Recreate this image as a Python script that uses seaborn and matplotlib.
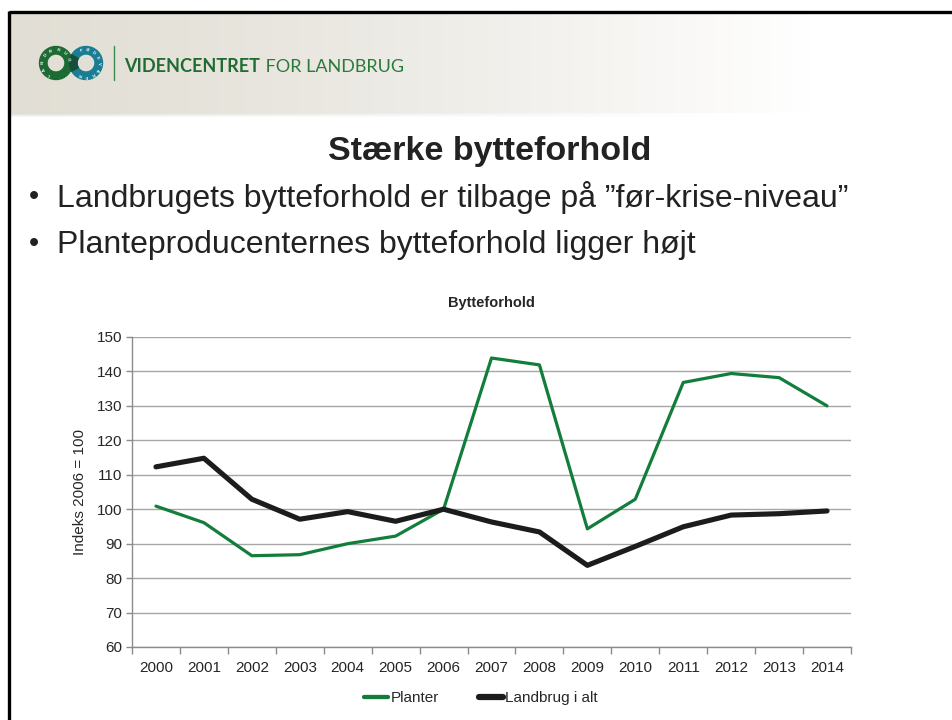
import numpy as np
import pandas as pd
import matplotlib
matplotlib.use("Agg")
import matplotlib.pyplot as plt
from matplotlib.patches import Wedge
from matplotlib.lines import Line2D
import seaborn as sns

# ---------------- data ----------------
years = ['2000', '2001', '2002', '2003', '2004', '2005', '2006', '2007',
         '2008', '2009', '2010', '2011', '2012', '2013', '2014']
planter = [100.9, 96.1, 86.5, 86.8, 90.0, 92.2, 100.0, 143.9,
           141.9, 94.3, 102.9, 136.8, 139.4, 138.2, 130.0]
landbrug = [112.3, 114.8, 102.9, 97.1, 99.3, 96.5, 100.0, 96.3,
            93.4, 83.7, 89.2, 94.9, 98.3, 98.7, 99.5]
series_names = ['Planter', 'Landbrug i alt']
yticks = [60, 70, 80, 90, 100, 110, 120, 130, 140, 150]

slide_title = 'Stærke bytteforhold'
bullets = ['Landbrugets bytteforhold er tilbage på ”før-krise-niveau”',
           'Planteproducenternes bytteforhold ligger højt']
chart_title = 'Bytteforhold'
ylabel = 'Indeks 2006 = 100'

df = pd.DataFrame({
    'year': years * 2,
    'value': planter + landbrug,
    'series': [series_names[0]] * len(years) + [series_names[1]] * len(years),
})

sns.set_theme(style='white')
plt.rcParams['font.family'] = ['Liberation Sans', 'DejaVu Sans']

W, H = 952, 720
fig = plt.figure(figsize=(W / 100, H / 100), dpi=100)
fig.patch.set_facecolor('white')

def fx(x):
    return x / W

def fy(y):
    return 1 - y / H

# ---------------- header band ----------------
hdr = fig.add_axes([fx(10), fy(113), fx(942), (113 - 13) / H])
hdr.set_axis_off()
grad = np.linspace(0, 1, 400)
c0 = np.array([0.885, 0.872, 0.835])
c1 = np.array([1.0, 1.0, 1.0])
t = np.clip(grad / 0.85, 0, 1) ** 1.3
img = (c0[None, :] * (1 - t[:, None]) + c1[None, :] * t[:, None])[None, :, :]
hdr.imshow(img, aspect='auto', extent=[0, 1, 0, 1])
hdr.set_xlim(0, 1)
hdr.set_ylim(0, 1)

# header bottom shadow
sh = fig.add_axes([fx(10), fy(118), fx(942), 5 / H])
sh.set_axis_off()
sgrad = np.linspace(0, 1, 400)
st = np.clip(sgrad / 0.75, 0, 1)
shade = np.array([0.86, 0.86, 0.86])
simg = shade[None, :] * (1 - st[:, None]) + np.ones(3)[None, :] * st[:, None]
vert = np.linspace(0, 1, 5)[:, None, None]
simg2 = simg[None, :, :] * (1 - vert) + np.ones(3)[None, None, :] * vert
sh.imshow(simg2, aspect='auto', extent=[0, 1, 0, 1])

# logo
lg = fig.add_axes([0, 0, 1, 1])
lg.set_axis_off()
lg.set_xlim(0, W)
lg.set_ylim(H, 0)
lg.patch.set_alpha(0)
green_dark = '#1d6b34'
teal = '#1a7d94'
lg.add_patch(Wedge((86, 63), 16.5, 0, 360, width=7.5, color=teal))
lg.add_patch(Wedge((56, 63), 16.5, -60, 300, width=7.5, color=green_dark))
lg.add_patch(Wedge((86, 63), 16.5, 150, 210, width=7.5, color='#17503a'))
for i, ch in enumerate('LANDBRUG'):
    ang = np.deg2rad(240 - i * 32)
    lg.text(56 + 12.7 * np.cos(ang), 63 - 12.7 * np.sin(ang), ch,
            fontsize=3.0, color='white', ha='center', va='center',
            rotation=np.rad2deg(ang) - 90, fontweight='bold')
for i, ch in enumerate('FØDEVARER'):
    ang = np.deg2rad(110 - i * 28)
    lg.text(86 + 12.7 * np.cos(ang), 63 - 12.7 * np.sin(ang), ch,
            fontsize=3.0, color='white', ha='center', va='center',
            rotation=np.rad2deg(ang) - 90, fontweight='bold')
lg.plot([114, 114], [46, 80], color='#3d8a4a', lw=1.0)
t1 = lg.text(124, 72, 'VIDENCENTRET', fontsize=13, fontweight='bold',
             color='#1f6b32', family=['Lato', 'DejaVu Sans'], va='baseline')
fig.canvas.draw()
bb = t1.get_window_extent()
lg.text(bb.x1 + 1, H - 72, ' FOR LANDBRUG', fontsize=13, color='#2b7a3a',
        family=['Lato', 'DejaVu Sans'], va='baseline', transform=None)

# border (top and left)
lg.plot([9, W], [12, 12], color='black', lw=2.4, solid_capstyle='butt')
lg.plot([9, 9], [11, H], color='black', lw=2.4, solid_capstyle='butt')

# ---------------- slide texts ----------------
fig.text(fx(490), fy(160), slide_title, ha='center', va='baseline',
         fontsize=24.5, fontweight='bold', color='#222222')
for k, b in enumerate(bullets):
    yb = 207 + k * 46.5
    fig.text(fx(34), fy(yb - 10), '•', ha='center', va='center',
             fontsize=21, color='#222222')
    fig.text(fx(57), fy(yb), b, ha='left', va='baseline',
             fontsize=23, color='#222222')

# ---------------- chart ----------------
ax = fig.add_axes([fx(132), fy(647), fx(851 - 132), (647 - 337) / H])
ax.set_facecolor('none')
colors = {series_names[0]: '#137d3b', series_names[1]: '#1c1c1c'}
widths = {series_names[0]: 2.3, series_names[1]: 3.7}
for name in series_names:
    sub = df[df['series'] == name]
    sns.lineplot(data=sub, x='year', y='value', ax=ax, color=colors[name],
                 linewidth=widths[name], sort=False, label=name,
                 legend=False, zorder=3)

ax.set_ylim(60, 150)
ax.set_xlim(-0.5, len(years) - 0.5)
ax.set_yticks(yticks)
ax.set_xticks(range(len(years)))
ax.set_xticklabels(years)
ax.set_xticks(np.arange(-0.5, len(years), 1.0), minor=True)
ax.grid(axis='y', color='#a6a6a6', linewidth=1.0, zorder=0)
ax.grid(axis='x', visible=False)
for s in ['top', 'right']:
    ax.spines[s].set_visible(False)
for s in ['left', 'bottom']:
    ax.spines[s].set_visible(True)
    ax.spines[s].set_color('#8c8c8c')
    ax.spines[s].set_linewidth(1.0)
ax.tick_params(axis='x', which='major', length=0, pad=10, labelsize=11,
               labelcolor='#262626')
ax.tick_params(axis='x', which='minor', length=5, width=1.0, color='#8c8c8c',
               direction='out', bottom=True)
ax.tick_params(axis='y', which='major', length=4, width=1.0, color='#8c8c8c',
               direction='out', left=True, labelsize=11, labelcolor='#262626',
               pad=3)
ax.set_xlabel('')
ax.set_ylabel(ylabel, fontsize=11, color='#262626', labelpad=7)

fig.text(fx(491), fy(303), chart_title, ha='center', va='center',
         fontsize=10.5, fontweight='bold', color='#262626')

handles = [Line2D([0], [0], color=colors[n], lw=widths[n] + 0.8) for n in series_names]
fig.legend(handles, series_names, loc='center', bbox_to_anchor=(fx(481), fy(698)),
           ncol=2, frameon=False, fontsize=11, handlelength=1.6,
           handletextpad=0.15, columnspacing=2.6, labelcolor='#262626')

fig.savefig('out.png', dpi=100)
